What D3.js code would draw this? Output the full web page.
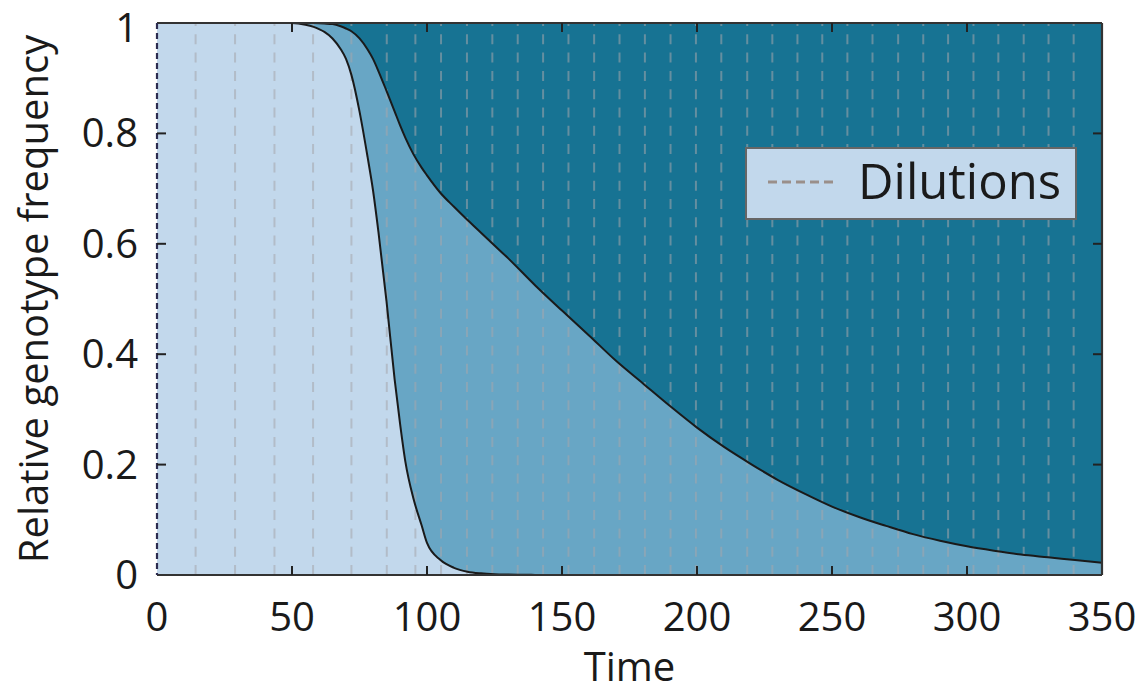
<!DOCTYPE html>
<html lang="en">
<head>
    <meta charset="UTF-8">
    <title>Relative genotype frequency</title>
    <script src="https://cdn.jsdelivr.net/npm/d3@7"></script>
    <style>
        body { margin: 0; background: #fff; }
        svg { display: block; font-family: "Open Sans", sans-serif; }
    </style>
</head>
<body>
<script>

    // DATA
    const times = [0, 50, 55, 58, 60, 62, 65, 68, 70, 72, 75, 78, 80, 82, 85, 88, 90, 92, 95, 98,
                   100, 105, 110, 115, 120, 125, 130, 140, 150, 160, 170, 180, 190, 200, 210, 220,
                   230, 240, 250, 260, 270, 280, 290, 300, 310, 320, 330, 340, 350]

    // frequency of first genotype (lower boundary)
    const lowerFreq = [1, 1, 0.997, 0.993, 0.989, 0.984, 0.972, 0.953, 0.935, 0.906, 0.84, 0.757, 0.697, 0.622, 0.496,
                       0.355, 0.275, 0.205, 0.138, 0.09, 0.058, 0.027, 0.013, 0.006, 0.003, 0.0015, 0.0008,
                       0.0002, 0, 0, 0, 0, 0, 0, 0, 0, 0, 0, 0, 0, 0, 0, 0, 0, 0, 0, 0, 0, 0]

    // cumulative frequency of first + second genotype (upper boundary)
    const upperFreq = [1, 1, 1, 0.9998, 0.9995, 0.999, 0.998, 0.994, 0.99, 0.985, 0.972, 0.952, 0.935, 0.913, 0.877,
                       0.84, 0.815, 0.792, 0.762, 0.738, 0.724, 0.692, 0.667, 0.643, 0.62, 0.597, 0.574,
                       0.525, 0.479, 0.434, 0.388, 0.347, 0.306, 0.267, 0.232, 0.201, 0.172, 0.147, 0.124,
                       0.105, 0.089, 0.074, 0.062, 0.052, 0.044, 0.037, 0.032, 0.027, 0.022]

    const dilutions = [14.3, 28.9, 43.5, 57.8, 72.0, 85.1, 95.7, 105.2, 114.8, 124.2, 133.6, 143.0, 152.4,
                       161.9, 171.3, 180.7, 190.2, 199.6, 209.0, 218.6, 227.9, 237.2, 246.4, 255.7, 265.0,
                       274.5, 283.8, 293.0, 302.4, 311.6, 321.0, 330.2, 339.5]

    const xTicks = [0, 50, 100, 150, 200, 250, 300, 350]
    const yTicks = [0, 0.2, 0.4, 0.6, 0.8, 1]

    let data = times.map((t, i) => ({t: t, lo: lowerFreq[i], up: upperFreq[i]}))

    // SVG
    const W = 1140, H = 692
    const m = {left: 157, right: 38, top: 23, bottom: 117}
    let svg = d3.select("body").append("svg").attr("width", W).attr("height", H)

    // SCALES
    let x_scale = d3.scaleLinear().domain([0, 350]).range([m.left, W - m.right])
    let y_scale = d3.scaleLinear().domain([0, 1]).range([H - m.bottom, m.top])

    // AREAS
    let areaTop = d3.area().x(d => x_scale(d.t)).y0(d => y_scale(d.up)).y1(y_scale(1)).curve(d3.curveMonotoneX)
    let areaMid = d3.area().x(d => x_scale(d.t)).y0(d => y_scale(d.lo)).y1(d => y_scale(d.up)).curve(d3.curveMonotoneX)
    let areaLow = d3.area().x(d => x_scale(d.t)).y0(y_scale(0)).y1(d => y_scale(d.lo)).curve(d3.curveMonotoneX)

    svg.append("path").datum(data).attr("d", areaTop).style("fill", "#177393")
    svg.append("path").datum(data).attr("d", areaMid).style("fill", "#68a6c5")
    svg.append("path").datum(data).attr("d", areaLow).style("fill", "#c2d8ec")

    // DILUTION LINES
    svg.append("g").selectAll("line").data(dilutions).join("line")
        .attr("x1", d => x_scale(d)).attr("x2", d => x_scale(d))
        .attr("y1", y_scale(0)).attr("y2", y_scale(1))
        .style("stroke", "rgba(165,165,172,0.55)")
        .style("stroke-width", 2)
        .style("stroke-dasharray", "10,8.3")

    // BOUNDARY LINES
    let lineUp = d3.line().x(d => x_scale(d.t)).y(d => y_scale(d.up)).curve(d3.curveMonotoneX)
    let lineLo = d3.line().x(d => x_scale(d.t)).y(d => y_scale(d.lo)).curve(d3.curveMonotoneX)
    svg.append("path").datum(data).attr("d", lineUp).style("fill", "none").style("stroke", "#1a1a1a").style("stroke-width", 2)
    svg.append("path").datum(data).attr("d", lineLo).style("fill", "none").style("stroke", "#1a1a1a").style("stroke-width", 2)

    // FRAME + TICKS
    const x0 = x_scale(0), x1 = x_scale(350), yb = y_scale(0), yt = y_scale(1)
    svg.append("line").attr("x1", x0).attr("x2", x1).attr("y1", yb).attr("y2", yb).style("stroke", "#333").style("stroke-width", 2.2)
    svg.append("line").attr("x1", x0).attr("x2", x1).attr("y1", yt).attr("y2", yt).style("stroke", "#333").style("stroke-width", 2.2)
    svg.append("line").attr("x1", x1).attr("x2", x1).attr("y1", yt).attr("y2", yb).style("stroke", "#333").style("stroke-width", 2.2)
    svg.append("line").attr("x1", x0).attr("x2", x0).attr("y1", yt).attr("y2", yb)
        .style("stroke", "#2c2c50").style("stroke-width", 2.2).style("stroke-dasharray", "6,4")

    const tl = 9
    let tg = svg.append("g").style("stroke", "#222").style("stroke-width", 2)
    xTicks.slice(1, -1).forEach(v => {
        tg.append("line").attr("x1", x_scale(v)).attr("x2", x_scale(v)).attr("y1", yb).attr("y2", yb - tl)
        tg.append("line").attr("x1", x_scale(v)).attr("x2", x_scale(v)).attr("y1", yt).attr("y2", yt + tl)
    })
    yTicks.slice(1, -1).forEach(v => {
        tg.append("line").attr("x1", x0).attr("x2", x0 + tl).attr("y1", y_scale(v)).attr("y2", y_scale(v))
        tg.append("line").attr("x1", x1).attr("x2", x1 - tl).attr("y1", y_scale(v)).attr("y2", y_scale(v))
    })

    // TICK LABELS
    svg.append("g").selectAll("text").data(xTicks).join("text")
        .attr("x", d => x_scale(d)).attr("y", 631)
        .attr("text-anchor", "middle")
        .style("font-size", "40px").style("fill", "#1a1a1a")
        .text(d => d)

    svg.append("g").selectAll("text").data(yTicks).join("text")
        .attr("x", 138).attr("y", d => Math.max(y_scale(d) + 14, 42))
        .attr("text-anchor", "end")
        .style("font-size", "40px").style("fill", "#1a1a1a")
        .text(d => d)

    // AXIS TITLES
    svg.append("text").attr("x", (x0 + x1) / 2).attr("y", 681).attr("text-anchor", "middle")
        .style("font-size", "40px").style("fill", "#1a1a1a").text("Time")
    svg.append("text").attr("transform", "translate(48," + ((yt + yb) / 2) + ") rotate(-90)")
        .attr("text-anchor", "middle")
        .style("font-size", "40px").style("fill", "#1a1a1a").text("Relative genotype frequency")

    // LEGEND
    svg.append("rect").attr("x", 746).attr("y", 148).attr("width", 330).attr("height", 71)
        .style("fill", "#c2d8ec").style("stroke", "#666").style("stroke-width", 2)
    svg.append("line").attr("x1", 768).attr("x2", 834).attr("y1", 182).attr("y2", 182)
        .style("stroke", "#9a8f8a").style("stroke-width", 3).style("stroke-dasharray", "9,5")
    svg.append("text").attr("x", 858).attr("y", 199)
        .style("font-size", "49px").style("fill", "#1a1a1a").text("Dilutions")

</script>
</body>
</html>
